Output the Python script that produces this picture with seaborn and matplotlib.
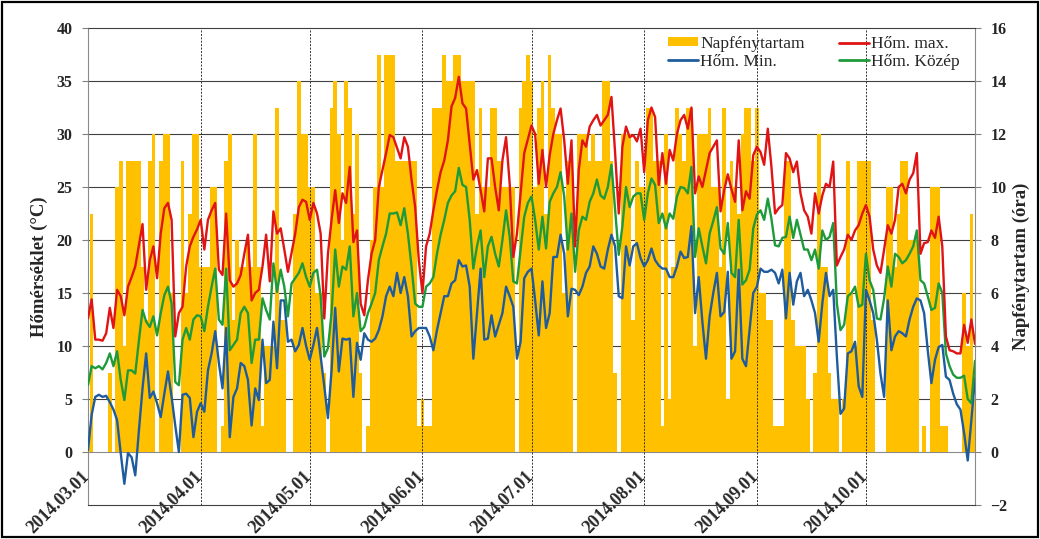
import numpy as np
import pandas as pd
import matplotlib
matplotlib.use("Agg")
import matplotlib.pyplot as plt
import seaborn as sns
from matplotlib.lines import Line2D
from matplotlib.patches import Patch, Rectangle
from matplotlib.transforms import ScaledTranslation

# napi adatok 2014.03.01 - 2014.10.31
napfeny = [
    1, 9, 0, 0, 0, 0, 3, 0, 10, 11, 4, 11, 11, 11, 11, 7, 5, 11, 12, 0, 11, 12, 12, 6, 0, 0, 11, 6, 9, 12, 12,
    7, 7, 7, 10, 10, 0, 1, 11, 12, 5, 8, 7, 7, 8, 7, 12, 7, 1, 4, 4, 4, 13, 5, 5, 0, 0, 9, 14, 12, 12,
    10, 10, 6, 6, 3, 0, 13, 14, 12, 8, 14, 13, 9, 12, 3, 0, 1, 8, 10, 15, 10, 15, 15, 15, 11, 11, 11, 11, 11, 11, 1,
    2, 1, 1, 13, 13, 13, 15, 14, 14, 15, 15, 14, 14, 14, 14, 9, 13, 10, 10, 13, 13, 11, 10, 10, 10, 10, 0, 13, 14, 15,
    14, 10, 13, 14, 9, 15, 13, 12, 12, 6, 11, 11, 0, 12, 12, 12, 11, 12, 11, 11, 14, 14, 11, 3, 0, 12, 12, 12, 5, 11, 10,
    10, 13, 13, 11, 11, 1, 12, 2, 7, 13, 12, 11, 13, 13, 4, 12, 12, 12, 13, 10, 10, 7, 13, 2, 11, 10, 9, 12, 13, 13, 11,
    13, 6, 6, 5, 5, 1, 1, 1, 11, 11, 5, 4, 4, 4, 2, 0, 3, 12, 7, 7, 3, 2, 2, 0, 2, 11, 6, 4, 11, 11,
    11, 11, 5, 0, 0, 0, 10, 10, 7, 9, 11, 11, 8, 8, 8, 0, 1, 0, 10, 10, 10, 1, 1, 0, 0, 0, 0, 6, 4, 9, 2,
]

hom_max = [
    12.6, 14.4, 10.6, 10.6, 10.5, 11.2, 13.6, 11.7, 15.3, 14.7, 12.9, 15.6, 16.5, 17.5, 19.5, 21.5, 15.3, 18.1, 19.4, 16.4,
    20.6, 23.0, 23.5, 21.9, 10.9, 13.1, 13.7, 17.5, 19.4, 20.3, 21.0,
    21.9, 19.1, 21.9, 22.8, 23.5, 17.2, 16.7, 22.5, 16.2, 15.6, 15.9, 16.7, 18.7, 20.5, 14.3, 15.0, 15.3, 17.5, 20.5, 16.1,
    22.7, 20.6, 21.1, 19.1, 17.0, 18.8, 20.6, 23.1, 23.8, 23.6,
    21.9, 23.5, 22.5, 20.6, 12.6, 18.7, 21.9, 24.7, 21.6, 24.4, 23.5, 26.9, 19.8, 20.9, 14.0, 12.9, 16.2, 18.7, 20.0, 25.0,
    26.6, 28.2, 29.9, 29.7, 28.7, 27.7, 29.7, 28.8, 25.7, 23.1, 18.1,
    15.0, 19.4, 20.6, 22.8, 24.7, 26.4, 27.5, 29.4, 32.6, 33.4, 35.4, 32.9, 32.4, 29.1, 25.7, 26.6, 24.7, 22.7, 27.7, 27.7,
    25.0, 22.8, 27.5, 29.7, 25.3, 18.4, 20.6, 24.4, 28.2, 29.5,
    30.8, 30.0, 25.3, 28.5, 25.0, 28.0, 30.0, 31.3, 32.4, 29.4, 25.3, 29.4, 19.4, 26.6, 29.4, 28.8, 30.7, 31.3, 31.8, 30.8,
    31.3, 31.8, 33.5, 28.2, 22.5, 28.8, 30.7, 29.7, 29.9, 29.3, 30.5,
    26.4, 31.3, 32.5, 31.6, 25.2, 28.2, 25.3, 28.5, 27.5, 30.0, 31.3, 31.8, 30.5, 32.5, 24.4, 26.0, 25.0, 26.6, 28.2, 28.8,
    29.4, 22.7, 24.7, 26.2, 24.8, 23.6, 29.4, 22.8, 24.6, 23.9, 28.0,
    28.8, 28.3, 27.1, 30.5, 26.9, 22.5, 23.0, 23.3, 28.2, 27.7, 26.4, 27.4, 24.4, 22.8, 22.2, 20.6, 24.4, 22.5, 24.2, 25.3,
    25.0, 27.4, 17.6, 18.4, 19.1, 20.5, 20.0, 20.9, 21.4, 22.5,
    23.3, 22.2, 19.1, 17.6, 16.9, 19.1, 21.4, 20.6, 21.9, 25.0, 25.3, 24.4, 25.7, 26.3, 28.2, 18.7, 19.7, 19.8, 20.9, 20.2,
    22.2, 19.4, 10.9, 9.6, 9.5, 9.3, 9.3, 12.0, 10.3, 12.5, 10.2,
]

hom_kozep = [
    6.3, 8.1, 7.9, 8.1, 7.8, 8.4, 9.3, 8.1, 9.5, 6.8, 4.9, 7.7, 7.7, 7.4, 10.5, 13.4, 12.3, 11.8, 12.8, 11.0,
    13.1, 14.8, 15.6, 14.0, 6.6, 6.3, 10.6, 11.7, 10.6, 12.5, 12.9,
    12.8, 11.4, 13.7, 15.6, 17.3, 12.5, 12.0, 17.3, 9.6, 10.1, 10.6, 13.1, 13.7, 13.1, 8.4, 10.6, 10.6, 14.5, 13.4, 12.5,
    17.8, 15.1, 17.2, 15.6, 12.8, 15.9, 16.4, 16.9, 17.8, 16.5,
    15.6, 16.9, 17.2, 14.7, 9.0, 9.8, 13.1, 19.1, 15.6, 17.5, 17.2, 19.4, 12.8, 15.0, 11.4, 11.8, 13.1, 14.0, 15.0, 18.1,
    19.4, 20.6, 22.5, 22.5, 22.6, 21.4, 23.0, 20.6, 17.5, 14.0, 13.7,
    13.7, 15.6, 15.9, 16.5, 18.7, 20.5, 21.9, 23.5, 24.2, 24.6, 26.8, 25.2, 25.0, 21.9, 17.3, 19.4, 20.9, 16.5, 19.4, 20.3,
    18.7, 17.5, 20.0, 22.8, 20.3, 16.1, 15.9, 19.1, 22.2, 23.5,
    24.1, 21.9, 19.1, 22.2, 19.2, 23.6, 24.4, 25.0, 26.4, 24.1, 19.1, 22.5, 17.0, 20.9, 22.2, 21.9, 23.6, 24.4, 25.7, 24.2,
    23.9, 25.0, 27.1, 22.8, 18.6, 21.3, 25.0, 23.1, 24.1, 24.4, 24.4,
    21.9, 24.4, 25.8, 25.2, 21.6, 22.5, 21.1, 22.5, 22.0, 24.1, 25.0, 24.9, 24.4, 26.9, 18.4, 21.1, 19.4, 17.8, 20.6, 21.8,
    23.1, 19.2, 18.7, 21.6, 16.9, 16.5, 21.9, 15.8, 16.2, 17.2, 21.1,
    22.4, 22.8, 21.9, 23.9, 22.0, 19.5, 19.4, 20.2, 20.3, 22.2, 20.2, 21.9, 20.5, 19.1, 19.1, 18.1, 19.1, 17.3, 20.9, 20.0,
    20.3, 21.6, 14.0, 11.5, 12.0, 14.7, 15.0, 15.6, 13.7, 13.9,
    18.7, 16.2, 15.3, 12.6, 12.5, 14.5, 17.5, 15.6, 18.7, 18.4, 17.8, 18.1, 18.7, 19.4, 20.9, 16.2, 15.9, 14.7, 13.4, 13.6,
    15.9, 15.0, 9.3, 8.1, 7.3, 7.0, 7.0, 7.2, 5.0, 4.6, 8.6,
]

hom_min = [
    0.2, 3.5, 5.2, 5.4, 5.2, 5.3, 4.7, 4.0, 3.0, -0.1, -3.0, -0.1, -0.5, -2.2, 2.0, 6.0, 9.3, 5.1, 5.7, 4.6,
    3.3, 5.5, 7.6, 5.2, 2.5, 0.0, 5.4, 5.5, 5.1, 1.4, 3.8,
    4.6, 3.8, 7.7, 9.3, 11.4, 8.4, 6.0, 11.7, 1.4, 5.2, 6.0, 8.4, 8.1, 6.8, 2.5, 6.0, 4.9, 10.6, 6.5, 6.8,
    12.3, 7.9, 14.3, 14.3, 10.4, 10.6, 9.5, 10.1, 11.7, 10.0,
    8.7, 10.1, 11.7, 9.0, 6.2, 3.2, 7.7, 13.6, 7.6, 10.7, 10.6, 10.7, 5.2, 10.3, 8.7, 11.2, 10.6, 10.4, 10.7, 11.5,
    12.8, 14.7, 15.6, 14.7, 16.9, 15.0, 16.5, 14.7, 10.9, 11.4, 11.7,
    11.7, 11.7, 10.9, 9.6, 11.5, 13.1, 14.7, 14.7, 15.9, 16.2, 18.1, 17.5, 17.6, 15.6, 8.8, 13.1, 17.3, 10.6, 10.7, 12.9,
    10.9, 12.0, 13.1, 15.6, 14.7, 13.7, 8.8, 10.4, 16.4, 17.0,
    17.3, 14.3, 11.0, 16.1, 11.7, 13.1, 18.4, 18.4, 20.5, 18.7, 12.8, 15.4, 15.3, 14.8, 15.6, 16.9, 17.5, 19.4, 18.7, 17.5,
    17.3, 19.1, 20.5, 19.4, 14.7, 14.5, 19.4, 17.6, 19.4, 19.7, 18.3,
    17.5, 18.1, 19.2, 18.1, 17.6, 17.3, 17.3, 16.5, 16.5, 17.5, 18.9, 18.3, 18.4, 21.3, 13.1, 16.5, 12.3, 8.8, 12.8, 15.0,
    16.9, 12.8, 13.2, 17.0, 8.8, 9.5, 17.2, 8.8, 8.1, 11.5, 15.0,
    15.6, 17.3, 17.0, 17.0, 17.2, 16.9, 15.9, 17.2, 12.6, 16.9, 13.9, 16.1, 16.9, 14.7, 15.3, 14.3, 13.1, 10.4, 14.0, 16.9,
    14.7, 15.3, 9.0, 3.6, 4.1, 9.3, 9.5, 10.4, 6.2, 5.2,
    15.3, 14.3, 13.1, 10.6, 7.4, 5.2, 14.3, 9.6, 10.9, 11.4, 11.2, 10.9, 12.5, 13.7, 14.5, 14.3, 13.1, 9.6, 6.5, 8.7,
    9.9, 10.1, 7.1, 6.8, 5.5, 4.5, 4.0, 1.8, -0.8, 3.0, 7.0,
]

honap_kezdet = ['2014.03.01', '2014.04.01', '2014.05.01', '2014.06.01',
                '2014.07.01', '2014.08.01', '2014.09.01', '2014.10.01']

datumok = pd.date_range('2014-03-01', '2014-10-31', freq='D')
df = pd.DataFrame({
    'nap': np.arange(len(datumok)),
    'napfeny': napfeny,
    'max': hom_max,
    'kozep': hom_kozep,
    'min': hom_min,
})
tick_pos = [(pd.Timestamp(d.replace('.', '-')) - datumok[0]).days for d in honap_kezdet]

SARGA = '#FFC000'
PIROS = '#E01414'
KEK = '#1F5C9E'
ZOLD = '#1E9A3A'

sns.set_style('white')
plt.rcParams['font.family'] = ['Liberation Serif', 'DejaVu Serif']

fig = plt.figure(figsize=(10.4, 5.39), dpi=100)
ax = fig.add_axes([88 / 1040, 34 / 539, 887 / 1040, 477 / 539])

# napfénytartam oszlopok (jobb tengely)
sns.barplot(data=df, x='nap', y='napfeny', native_scale=True, width=1.0,
            color=SARGA, saturation=1, errorbar=None, linewidth=0, ax=ax)

for y in range(0, 15, 2):
    ax.axhline(y, color='#8a8a8a' if y == 0 else '#404040', lw=0.8, zorder=0.5)
for p in tick_pos[1:]:
    ax.axvline(p, color='#303030', lw=0.7, ls=(0, (2, 1.5)), zorder=1.5)

ax2 = ax.twinx()
sns.lineplot(data=df, x='nap', y='min', color=KEK, lw=1.7, ax=ax2)
sns.lineplot(data=df, x='nap', y='kozep', color=ZOLD, lw=1.7, ax=ax2)
sns.lineplot(data=df, x='nap', y='max', color=PIROS, lw=1.7, ax=ax2)

ax.set_xlim(0, len(df) - 1)
ax.set_ylim(-2, 16)
ax.set_yticks(range(-2, 17, 2))
ax.yaxis.tick_right()
ax.yaxis.set_label_position('right')
ax.set_ylabel('Napfénytartam (óra)', fontweight='bold', fontsize=13.5)
ax.yaxis.set_label_coords(1.043, 0.5)
ax.set_xlabel('')
ax.set_xticks(tick_pos)
ax.set_xticklabels(honap_kezdet, rotation=45, ha='right', rotation_mode='anchor',
                   fontweight='bold', fontsize=13)
ax.tick_params(axis='x', length=0, pad=-27)
eltolas = ScaledTranslation(-7 / 100, 0, fig.dpi_scale_trans)
for t in ax.get_xticklabels():
    t.set_transform(t.get_transform() + eltolas)

ax2.set_ylim(-5, 40)
ax2.set_yticks(range(0, 41, 5))
ax2.yaxis.tick_left()
ax2.yaxis.set_label_position('left')
ax2.set_ylabel('Hőmérséklet (°C)', fontweight='bold', fontsize=13.5)
ax2.yaxis.set_label_coords(-0.045, 0.5)
ax2.set_xlabel('')

for a in (ax, ax2):
    a.tick_params(axis='y', direction='out', length=4, width=0.8, color='#808080',
                  pad=7, labelsize=11.5)
    for t in a.get_yticklabels():
        t.set_fontweight('bold')

for s in ax2.spines.values():
    s.set_visible(False)
ax.spines['top'].set_color('#404040')
ax.spines['bottom'].set_color('#404040')
ax.spines['left'].set_color('#8a8a8a')
ax.spines['right'].set_color('#8a8a8a')
for s in ax.spines.values():
    s.set_linewidth(0.8)

handles = [Patch(facecolor=SARGA, edgecolor='none'),
           Line2D([], [], color=KEK, lw=2),
           Line2D([], [], color=PIROS, lw=2),
           Line2D([], [], color=ZOLD, lw=2)]
labels = ['Napfénytartam', 'Hőm. Min.', 'Hőm. max.', 'Hőm. Közép']
ax2.legend(handles, labels, ncol=2, loc='upper left',
           bbox_to_anchor=(668 / 1040, 1 - 36 / 539), bbox_transform=fig.transFigure,
           frameon=False, fontsize=12.5, handlelength=1.7, handleheight=0.45,
           handletextpad=0.15, columnspacing=2.0, labelspacing=0.1,
           borderpad=0, borderaxespad=0)

fig.add_artist(Rectangle((2 / 1040, 2 / 539), 1036 / 1040, 535 / 539,
                         transform=fig.transFigure, fill=False, ec='black', lw=1.6))

fig.savefig('out.png', dpi=100)
